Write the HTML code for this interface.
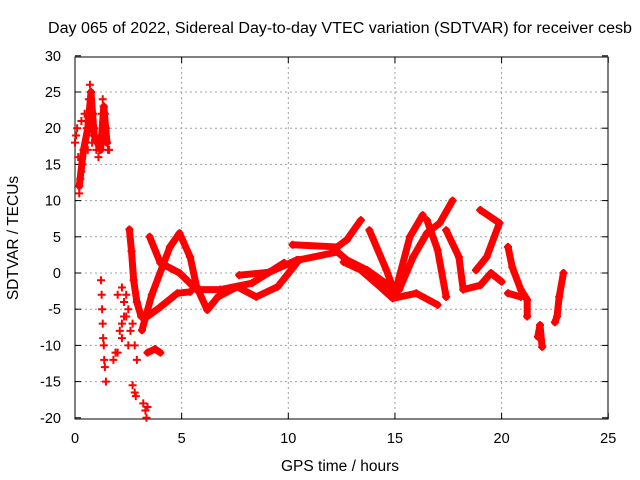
<!DOCTYPE html>
<html><head><meta charset="utf-8"><style>
body{margin:0;background:#fff}
svg{display:block;font-family:"Liberation Sans",sans-serif}
</style></head><body>
<svg id="chart" width="640" height="480" viewBox="0 0 640 480" xmlns="http://www.w3.org/2000/svg">
<text x="48" y="33" font-size="15.5" textLength="584" lengthAdjust="spacingAndGlyphs">Day 065 of 2022, Sidereal Day-to-day VTEC variation (SDTVAR) for receiver cesb</text>
<g id="grid"></g>
<g id="axes"></g>
<g id="marks"></g>
<text x="340" y="471" font-size="15.5" text-anchor="middle">GPS time / hours</text>
<text transform="translate(18,238) rotate(-90)" font-size="15.5" text-anchor="middle">SDTVAR / TECUs</text>
</svg>
<script>
const xTicks=[0,5,10,15,20,25];
const yTicks=[30,25,20,15,10,5,0,-5,-10,-15,-20];
const tracks=[
[[3.14,-7.9],[3.6,-3],[4.45,3.6],[4.9,5.5],[5.4,2.2],[5.7,-1.9],[6.2,-5.1],[6.7,-3.3],[7.6,-1.9],[8.5,-3.3],[9.5,-1.9],[10.4,1.4]],
[[3.5,5],[4.0,1.4],[4.9,0],[5.7,-2.3],[6.8,-2.3],[8.3,-1.4],[9.8,1.4]],
[[3.4,-6],[4.0,-4.7],[4.8,-2.8],[5.4,-2.6]],
[[7.7,-0.3],[9.1,0.1],[10.4,1.8]],
[[2.55,6],[2.65,3],[2.75,-1],[2.9,-4],[3.1,-6]],
[[10.2,3.9],[12.3,3.6],[12.75,4.6],[13.4,7.3]],
[[9.6,0.8],[10.5,1.8],[12.3,2.9],[12.75,1.8],[13.7,0.4],[14.8,-1.9],[15.1,-3.3]],
[[12.6,1.5],[13.4,0.4],[14.3,-1.9],[14.9,-3.5],[16.0,-2.8],[17.0,-4.4]],
[[13.8,5.9],[14.6,0.4],[15.0,-2.8],[15.7,5],[16.3,8]],
[[15.2,-2.3],[15.85,2.2],[16.5,5.5],[17.1,6.9],[17.7,10]],
[[16.5,7.3],[17.0,3.2],[17.4,-3.3]],
[[17.4,5.9],[18.0,2.2],[18.2,-2.3],[19.0,-1.7],[19.5,0],[20.0,-1.2]],
[[19.0,8.7],[19.9,6.9],[19.3,2.2],[18.8,0.4]],
[[20.3,3.6],[20.5,0.8],[20.9,-2.3],[21.2,-3.7],[21.2,-6]],
[[20.3,-2.8],[20.9,-3.3]],
[[21.7,-8.8],[21.8,-7.2],[21.9,-10.2]],
[[22.9,0],[22.7,-3.3],[22.6,-6],[22.5,-6.8]],
[[3.4,-11],[3.75,-10.5],[4.0,-11]],
[[0.2,12],[0.4,17],[0.6,20],[0.75,25],[0.9,19],[1.2,17],[1.35,23],[1.5,18]]
];
const scatter=[
[0,18],[0.05,19],[0.1,20],[0.15,16],[0.2,11],[0.25,13],[0.3,14],[0.35,15],[0.4,17],[0.45,22],[0.5,21],[0.55,20],[0.6,19],[0.65,24],[0.7,26],[0.75,24],[0.8,18],[0.85,22],[0.9,20],[0.95,19],[1.0,17],[1.05,18],[1.1,16],[1.15,17],[1.2,18],[1.25,22],[1.3,24],[1.35,23],[1.4,22],[1.45,20],[1.5,18],[1.55,17],[1.6,17],[0.3,21],[0.6,17],[1.0,19],
[1.22,-1],[1.25,-3],[1.27,-5],[1.3,-7],[1.32,-9],[1.35,-10],[1.37,-12],[1.4,-13],[1.45,-15],
[1.8,-12],[1.9,-11],[2.0,-11],[2.1,-8],[2.2,-7],[2.3,-4],[2.4,-3],[2.0,-3],[2.2,-2],[2.4,-6],[2.5,-5],[2.6,-8],[2.7,-7],[2.8,-10],[2.9,-12],[2.2,-9],[2.5,-10],[2.3,-6],
[2.7,-15.5],[2.8,-16.5],[2.85,-17],[3.2,-18],[3.3,-19],[3.4,-18.5],[3.35,-20]
];
const X=h=>75+h*21.33, Y=v=>273-v*7.24;
const NS='http://www.w3.org/2000/svg';
function mk(p,t,a){const e=document.createElementNS(NS,t);for(const k in a)e.setAttribute(k,a[k]);p.appendChild(e);return e;}
const grid=document.getElementById('grid'),axes=document.getElementById('axes'),marks=document.getElementById('marks');
xTicks.forEach(t=>{
 if(t>0&&t<25){const l=mk(grid,'line',{x1:X(t),x2:X(t),y1:57,y2:419,stroke:'#a0a0a0','stroke-dasharray':'2,3'});
 
 }
 mk(axes,'line',{x1:X(t),x2:X(t),y1:419,y2:413,stroke:'#000'});
 mk(axes,'line',{x1:X(t),x2:X(t),y1:57,y2:63,stroke:'#000'});
 const tx=mk(axes,'text',{x:X(t),y:443,'font-size':14.5,'text-anchor':'middle'});tx.textContent=t;
 
 
});
yTicks.forEach(t=>{
 if(t<30&&t>-20){const l=mk(grid,'line',{x1:75,x2:608,y1:Y(t),y2:Y(t),stroke:'#a0a0a0','stroke-dasharray':'2,3'});
 
 }
 mk(axes,'line',{x1:75,x2:81,y1:Y(t),y2:Y(t),stroke:'#000'});
 mk(axes,'line',{x1:602,x2:608,y1:Y(t),y2:Y(t),stroke:'#000'});
 const tx=mk(axes,'text',{x:61,y:Y(t)+5,'font-size':14.5,'text-anchor':'end'});tx.textContent=t;
 
 
});
mk(axes,'rect',{x:75,y:57,width:533,height:362,fill:'none',stroke:'#000'});
function plus(h,v){const g=mk(marks,'path',{d:`M${X(h)-4},${Y(v)}h8M${X(h)},${Y(v)-4}v8`,stroke:'#f00','stroke-width':2});
 
 }
tracks.forEach(tr=>{
 const p=mk(marks,'polyline',{points:tr.map(d=>X(d[0])+','+Y(d[1])).join(' '),fill:'none',stroke:'#f00','stroke-width':7,'stroke-linejoin':'round','stroke-linecap':'round'});
 
 
 tr.forEach(d=>plus(d[0],d[1]));
});
scatter.forEach(d=>plus(d[0],d[1]));
</script>
</body></html>
